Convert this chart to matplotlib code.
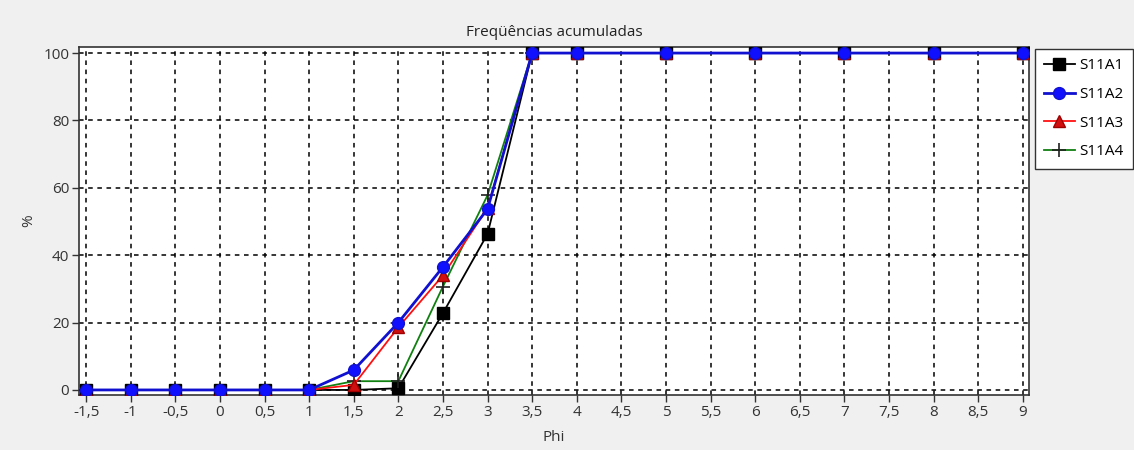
import numpy as np
import matplotlib.pyplot as plt
from matplotlib.ticker import FuncFormatter, MultipleLocator

plt.rcParams['font.family'] = ['Open Sans', 'DejaVu Sans']

phi = [-1.5, -1, -0.5, 0, 0.5, 1, 1.5, 2, 2.5, 3, 3.5, 4, 5, 6, 7, 8, 9]
s11a1 = [0, 0, 0, 0, 0, 0, 0, 0.5, 22.8, 46.3, 100, 100, 100, 100, 100, 100, 100]
s11a2 = [0, 0, 0, 0, 0, 0, 5.9, 20.0, 36.5, 53.7, 100, 100, 100, 100, 100, 100, 100]
s11a3 = [0, 0, 0, 0, 0, 0, 1.5, 18.6, 34.0, 54.0, 100, 100, 100, 100, 100, 100, 100]
s11a4 = [0, 0, 0, 0, 0, 0, 2.6, 2.6, 30.7, 57.8, 100, 100, 100, 100, 100, 100, 100]

fig = plt.figure(figsize=(11.34, 4.5), dpi=100, facecolor='#f0f0f0')
ax = fig.add_axes([79/1134, 1 - 395/450, 950/1134, 348/450])
ax.set_facecolor('white')

ax.plot(phi, s11a1, color='black', lw=1.3, marker='s', ms=8.5, mfc='black', mec='black',
        label='S11A1', zorder=3)
ax.plot(phi, s11a4, color='#108010', lw=1.3, marker='+', ms=10, mec='#202020', mew=1.2,
        label='S11A4', zorder=4)
ax.plot(phi, s11a3, color='#ff1010', lw=1.3, marker='^', ms=8, mfc='#d01010', mec='#a00000',
        label='S11A3', zorder=5)
ax.plot(phi, s11a2, color='#1010d0', lw=2, marker='o', ms=8.5, mfc='#1010ff', mec='#1010d0',
        label='S11A2', zorder=6)

ax.set_xlim(-1.58, 9.07)
ax.set_ylim(-1.5, 101.8)
ax.xaxis.set_major_locator(MultipleLocator(0.5))
ax.yaxis.set_major_locator(MultipleLocator(20))
ax.xaxis.set_major_formatter(FuncFormatter(lambda v, p: ('%g' % v).replace('.', ',')))
ax.grid(True, color='black', linestyle=(0, (3, 3)), lw=1.1)
ax.tick_params(labelsize=11, length=5, width=1, color='#333333', labelcolor='#333333', pad=2)
for s in ax.spines.values():
    s.set_color('#333333')
    s.set_linewidth(1.2)

ax.set_title('Freqüências acumuladas', fontsize=11, color='#222222', pad=8)
ax.set_xlabel('Phi', fontsize=11, color='#333333')
ax.set_ylabel('%', fontsize=11, color='#333333')
ax.xaxis.set_label_coords(0.5, -0.102)
ax.yaxis.set_label_coords(-0.045, 0.5)

handles, labels = ax.get_legend_handles_labels()
order = [labels.index(n) for n in ['S11A1', 'S11A2', 'S11A3', 'S11A4']]
leg = fig.legend([handles[i] for i in order], [labels[i] for i in order],
                 loc='upper left', bbox_to_anchor=(1035/1134, 1 - 49/450),
                 fontsize=11, fancybox=False, edgecolor='#333333', framealpha=1,
                 handlelength=2.0, handletextpad=0.3, borderpad=0.6, labelspacing=0.9,
                 borderaxespad=0)
leg.get_frame().set_linewidth(1)

fig.savefig('out.png', dpi=100, facecolor=fig.get_facecolor())
